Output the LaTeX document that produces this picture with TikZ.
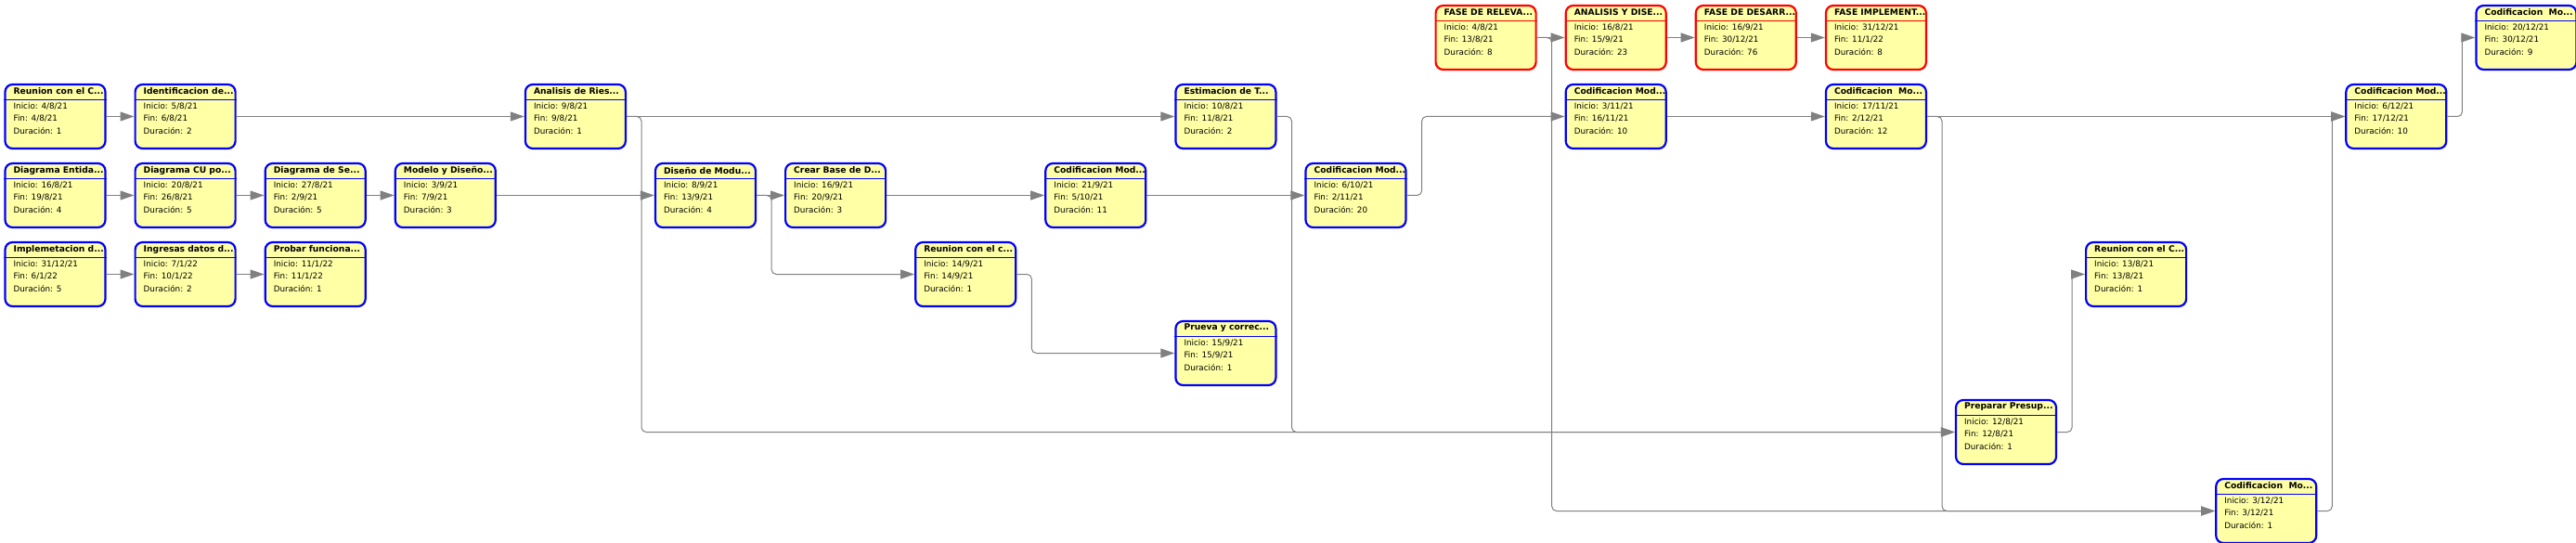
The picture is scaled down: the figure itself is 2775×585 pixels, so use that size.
\documentclass[tikz,border=0pt]{standalone}
\usepackage{fontspec}
\setmainfont{DejaVu Sans}
\usetikzlibrary{arrows.meta}
\definecolor{tareafill}{RGB}{255,255,166}
\definecolor{tareablue}{RGB}{0,0,255}
\definecolor{tareared}{RGB}{255,0,0}
\definecolor{linkgray}{RGB}{128,128,128}

% one box of the network: name, column, row, style, title, start, end, duration
\newcommand{\tarea}[8]{%
  \node[tarea, #4] (#1) at ({140.1*#2+59.5}, {85*#3+40.5}) {};
  \draw[tareasep, #4] ([yshift=-17.3pt]#1.north west) -- ([yshift=-17.3pt]#1.north east);
  \node[titulo] (#1-t) at ([xshift=10pt, yshift=-8.6pt]#1.north west) {#5};
  \node[dato] (#1-i) at ([xshift=10pt, yshift=-24.7pt]#1.north west) {Inicio: #6};
  \node[dato] (#1-f) at ([xshift=10pt, yshift=-37.7pt]#1.north west) {Fin: #7};
  \node[dato] (#1-d) at ([xshift=10pt, yshift=-50.7pt]#1.north west) {Duración: #8};
}

\begin{document}
\begin{tikzpicture}[x=1pt, y=-1pt,
    tarea/.style={rectangle, rounded corners=8pt, fill=tareafill, line width=2.2pt,
      minimum width=108pt, minimum height=69pt, inner sep=0pt},
    modulo/.style={draw=tareablue},
    fase/.style={draw=tareared},
    tareasep/.style={line width=1pt},
    titulo/.style={anchor=west, inner sep=0pt, font=\fontsize{9.2}{10}\selectfont\bfseries},
    dato/.style={anchor=west, inner sep=0pt, font=\fontsize{8.8}{10}\selectfont},
    link/.style={color=linkgray, line width=1pt, rounded corners=5pt,
      -{Triangle[length=15pt, width=10pt]}}]

    \useasboundingbox (0,0) rectangle (2775,585);

    % phases
    \tarea{relev}{11}{0}{fase}{FASE DE RELEVA...}{4/8/21}{13/8/21}{8}
    \tarea{andis}{12}{0}{fase}{ANALISIS Y DISE...}{16/8/21}{15/9/21}{23}
    \tarea{desarr}{13}{0}{fase}{FASE DE DESARR...}{16/9/21}{30/12/21}{76}
    \tarea{implem}{14}{0}{fase}{FASE IMPLEMENT...}{31/12/21}{11/1/22}{8}
    \tarea{codD}{19}{0}{modulo}{Codificacion~ Mo...}{20/12/21}{30/12/21}{9}

    % row 1
    \tarea{reunion}{0}{1}{modulo}{Reunion con el C...}{4/8/21}{4/8/21}{1}
    \tarea{identif}{1}{1}{modulo}{Identificacion de...}{5/8/21}{6/8/21}{2}
    \tarea{analisis}{4}{1}{modulo}{Analisis de Ries...}{9/8/21}{9/8/21}{1}
    \tarea{estim}{9}{1}{modulo}{Estimacion de T...}{10/8/21}{11/8/21}{2}
    \tarea{codA}{12}{1}{modulo}{Codificacion Mod...}{3/11/21}{16/11/21}{10}
    \tarea{codB}{14}{1}{modulo}{Codificacion~ Mo...}{17/11/21}{2/12/21}{12}
    \tarea{codC}{18}{1}{modulo}{Codificacion Mod...}{6/12/21}{17/12/21}{10}

    % row 2
    \tarea{diagent}{0}{2}{modulo}{Diagrama Entida...}{16/8/21}{19/8/21}{4}
    \tarea{diagcu}{1}{2}{modulo}{Diagrama CU po...}{20/8/21}{26/8/21}{5}
    \tarea{diagsec}{2}{2}{modulo}{Diagrama de Se...}{27/8/21}{2/9/21}{5}
    \tarea{modelo}{3}{2}{modulo}{Modelo y Diseño...}{3/9/21}{7/9/21}{3}
    \tarea{disenomod}{5}{2}{modulo}{Diseño de Modu...}{8/9/21}{13/9/21}{4}
    \tarea{crearbd}{6}{2}{modulo}{Crear Base de D...}{16/9/21}{20/9/21}{3}
    \tarea{codmodA}{8}{2}{modulo}{Codificacion Mod...}{21/9/21}{5/10/21}{11}
    \tarea{codmodB}{10}{2}{modulo}{Codificacion Mod...}{6/10/21}{2/11/21}{20}

    % row 3 and below
    \tarea{implemet}{0}{3}{modulo}{Implemetacion d...}{31/12/21}{6/1/22}{5}
    \tarea{ingresar}{1}{3}{modulo}{Ingresas datos d...}{7/1/22}{10/1/22}{2}
    \tarea{probar}{2}{3}{modulo}{Probar funciona...}{11/1/22}{11/1/22}{1}
    \tarea{reunionc}{7}{3}{modulo}{Reunion con el c...}{14/9/21}{14/9/21}{1}
    \tarea{reuniond}{16}{3}{modulo}{Reunion con el C...}{13/8/21}{13/8/21}{1}
    \tarea{prueba}{9}{4}{modulo}{Prueva y correc...}{15/9/21}{15/9/21}{1}
    \tarea{presup}{15}{5}{modulo}{Preparar Presup...}{12/8/21}{12/8/21}{1}
    \tarea{codE}{17}{6}{modulo}{Codificacion~ Mo...}{3/12/21}{3/12/21}{1}

    % straight links
    \path[link] (reunion) edge (identif);
    \path[link] (identif) edge (analisis);
    \path[link] (analisis) edge (estim);
    \path[link] (diagent) edge (diagcu);
    \path[link] (diagcu) edge (diagsec);
    \path[link] (diagsec) edge (modelo);
    \path[link] (modelo) edge (disenomod);
    \path[link] (disenomod) edge (crearbd);
    \path[link] (crearbd) edge (codmodA);
    \path[link] (codmodA) edge (codmodB);
    \path[link] (implemet) edge (ingresar);
    \path[link] (ingresar) edge (probar);
    \path[link] (relev) edge (andis);
    \path[link] (andis) edge (desarr);
    \path[link] (desarr) edge (implem);
    \path[link] (codA) edge (codB);
    \path[link] (codB) edge (codC);

    % bent links
    \draw[link] (analisis.east) -- ++(16,0) |- (presup.west);
    \draw[link] (estim.east) -- ++(16,0) |- (presup.west);
    \draw[link] (disenomod.east) -- ++(16,0) |- (reunionc.west);
    \draw[link] (reunionc.east) -- ++(16,0) |- (prueba.west);
    \draw[link] (codmodB.east) -- ++(16,0) |- (codA.west);
    \draw[link] (relev.east) -- ++(16,0) |- (codE.west);
    \draw[link] (codB.east) -- ++(16,0) |- (codE.west);
    \draw[link] (codE.east) -- ++(16,0) |- (codC.west);
    \draw[link] (codC.east) -- ++(16,0) |- (codD.west);
    \draw[link] (presup.east) -- ++(16,0) |- (reuniond.west);
\end{tikzpicture}
\end{document}
